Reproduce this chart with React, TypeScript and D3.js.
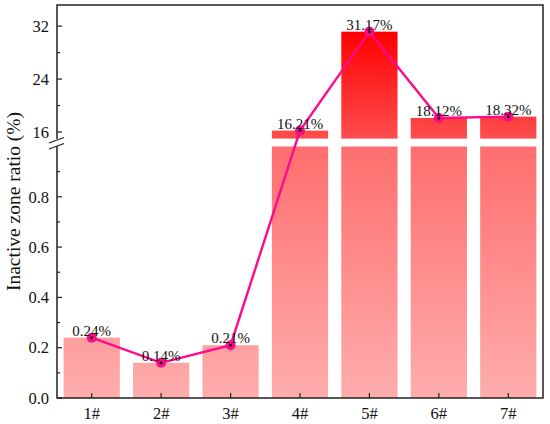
import React, { useEffect, useRef } from "react";
import * as d3 from "d3";

const samples = ["1#", "2#", "3#", "4#", "5#", "6#", "7#"];
const ratios = [0.24, 0.14, 0.21, 16.21, 31.17, 18.12, 18.32];
const labels = ["0.24%", "0.14%", "0.21%", "16.21%", "31.17%", "18.12%", "18.32%"];
const lowerTicks = [0, 0.2, 0.4, 0.6, 0.8];
const lowerMinor = [0.1, 0.3, 0.5, 0.7, 0.9];
const upperTicks = [16, 24, 32];
const upperMinor = [20, 28];

const W = 550;
const H = 424;
const left = 57;
const right = 543;
const top = 5;
const bottom = 398;

const App = () => {
  const svgRef = useRef<SVGSVGElement | null>(null);

  useEffect(() => {
    const svg = d3.select(svgRef.current);
    svg.selectAll("*").remove();
    svg.attr("width", W).attr("height", H);

    const font = "'Liberation Serif', 'Times New Roman', serif";

    const x = d3
      .scaleBand()
      .domain(samples)
      .range([left, right])
      .paddingInner(0.19)
      .paddingOuter(0.095);
    const yLow = d3.scaleLinear().domain([0, 1]).range([bottom, 146.5]);
    const yUp = d3.scaleLinear().domain([15, 35.2]).range([138.6, top]);
    const y = (v: number) => (v > 1 ? yUp(v) : yLow(v));

    // gradients, one per axis segment
    const defs = svg.append("defs");
    const gUp = defs
      .append("linearGradient")
      .attr("id", "gUp")
      .attr("gradientUnits", "userSpaceOnUse")
      .attr("x1", 0)
      .attr("x2", 0)
      .attr("y1", yUp(31.17))
      .attr("y2", yUp(15));
    gUp.append("stop").attr("offset", 0).attr("stop-color", "#ff0000");
    gUp.append("stop").attr("offset", 1).attr("stop-color", "#ff4d4d");
    const gLow = defs
      .append("linearGradient")
      .attr("id", "gLow")
      .attr("gradientUnits", "userSpaceOnUse")
      .attr("x1", 0)
      .attr("x2", 0)
      .attr("y1", yLow(1))
      .attr("y2", yLow(0));
    gLow.append("stop").attr("offset", 0).attr("stop-color", "#ff6e6e");
    gLow.append("stop").attr("offset", 1).attr("stop-color", "#ffadad");

    // bars
    const bars = svg.append("g");
    samples.forEach((s, i) => {
      const v = ratios[i];
      const lowTop = Math.min(v, 1);
      bars
        .append("rect")
        .attr("x", x(s)!)
        .attr("y", yLow(lowTop))
        .attr("width", x.bandwidth())
        .attr("height", yLow(0) - yLow(lowTop))
        .attr("fill", "url(#gLow)");
      if (v > 1) {
        bars
          .append("rect")
          .attr("x", x(s)!)
          .attr("y", yUp(v))
          .attr("width", x.bandwidth())
          .attr("height", yUp(15) - yUp(v))
          .attr("fill", "url(#gUp)");
      }
    });

    // frame
    svg
      .append("rect")
      .attr("x", left)
      .attr("y", top)
      .attr("width", right - left)
      .attr("height", bottom - top)
      .attr("fill", "none")
      .attr("stroke", "#222")
      .attr("stroke-width", 1.5);

    // y ticks (inward)
    const ax = svg.append("g").attr("stroke", "#222").attr("stroke-width", 1.2);
    const major = [...lowerTicks.map((t) => yLow(t)), ...upperTicks.map((t) => yUp(t))];
    const minor = [...lowerMinor.map((t) => yLow(t)), ...upperMinor.map((t) => yUp(t))];
    major.forEach((py) => ax.append("line").attr("x1", left).attr("x2", left + 5).attr("y1", py).attr("y2", py));
    minor.forEach((py) => ax.append("line").attr("x1", left).attr("x2", left + 3).attr("y1", py).attr("y2", py));
    samples.forEach((s) => {
      const px = x(s)! + x.bandwidth() / 2;
      ax.append("line").attr("x1", px).attr("x2", px).attr("y1", bottom).attr("y2", bottom - 5);
    });

    // axis break marks
    svg
      .append("rect")
      .attr("x", left - 2)
      .attr("y", 139)
      .attr("width", 4)
      .attr("height", 7)
      .attr("fill", "#fff");
    [0, 6].forEach((dy) => {
      svg
        .append("line")
        .attr("x1", 49)
        .attr("y1", 143 + dy)
        .attr("x2", 64)
        .attr("y2", 137.5 + dy)
        .attr("stroke", "#222")
        .attr("stroke-width", 1.3);
    });

    // tick labels
    const tl = svg
      .append("g")
      .attr("font-family", font)
      .attr("font-size", 16.5)
      .attr("fill", "#111");
    lowerTicks.forEach((t) =>
      tl
        .append("text")
        .attr("x", 49)
        .attr("y", yLow(t))
        .attr("dy", "0.35em")
        .attr("text-anchor", "end")
        .text(d3.format(".1f")(t))
    );
    upperTicks.forEach((t) =>
      tl
        .append("text")
        .attr("x", 49)
        .attr("y", yUp(t))
        .attr("dy", "0.35em")
        .attr("text-anchor", "end")
        .text(String(t))
    );
    samples.forEach((s) =>
      tl
        .append("text")
        .attr("x", x(s)! + x.bandwidth() / 2)
        .attr("y", 419)
        .attr("text-anchor", "middle")
        .text(s)
    );

    // y title
    svg
      .append("text")
      .attr("transform", `translate(20,${(top + bottom) / 2}) rotate(-90)`)
      .attr("text-anchor", "middle")
      .attr("font-family", font)
      .attr("font-size", 19.5)
      .attr("fill", "#111")
      .text("Inactive zone ratio (%)");

    // line + markers
    const pts = samples.map((s, i) => [x(s)! + x.bandwidth() / 2, y(ratios[i])] as [number, number]);
    svg
      .append("path")
      .attr("d", d3.line()(pts)!)
      .attr("fill", "none")
      .attr("stroke", "#ff0a8c")
      .attr("stroke-width", 2.4);
    pts.forEach(([px, py]) => {
      svg.append("circle").attr("cx", px).attr("cy", py).attr("r", 5).attr("fill", "#ff0a8c");
      svg.append("circle").attr("cx", px).attr("cy", py).attr("r", 1.5).attr("fill", "#111");
    });

    // value labels
    pts.forEach(([px, py], i) => {
      svg
        .append("text")
        .attr("x", px)
        .attr("y", py - 2)
        .attr("text-anchor", "middle")
        .attr("font-family", font)
        .attr("font-size", 15)
        .attr("fill", "#111")
        .text(labels[i]);
    });
  }, []);

  return <svg ref={svgRef} style={{ position: "absolute", left: 0, top: 0 }} />;
};

export default App;
